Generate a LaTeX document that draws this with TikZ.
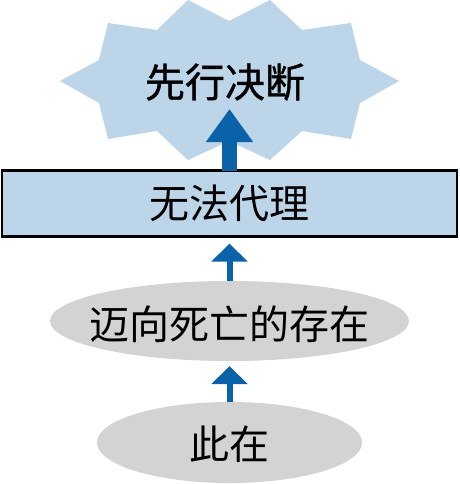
\documentclass[tikz,border=0pt]{standalone}
\usepackage{fontspec}
\newfontfamily\cjk{Noto Sans CJK SC}
\newfontfamily\cjkbold[FakeBold=1]{Noto Sans CJK SC}
\usetikzlibrary{arrows.meta,shapes.geometric}
\definecolor{paleblue}{HTML}{BDD5E8}
\definecolor{arrowblue}{HTML}{0A62A8}
\definecolor{palegray}{HTML}{D3D3D3}
\tikzset{
  txt/.style={font=\fontsize{40}{40}\selectfont\cjk, inner sep=0pt, outer sep=0pt},
  bluebox/.style={txt, draw=black, line width=2.5pt, fill=paleblue, minimum width=455pt, minimum height=66pt},
  grayoval/.style={ellipse, fill=palegray, inner sep=0pt, outer sep=0pt},
  fatarrow/.style={arrowblue, line width=15pt, -{Triangle[width=45pt,length=33pt]}},
  thinarrow/.style={arrowblue, line width=6pt, -{Triangle[width=35pt,length=18pt]}},
}
\begin{document}
\begin{tikzpicture}[x=1pt,y=-1pt]
		\useasboundingbox (0,0) rectangle (459,484);
		% starburst
		\fill[paleblue] (188,0) -- (229,21) -- (270,0) -- (302,30) -- (351,23) -- (360,60)
		  -- (399,81) -- (360,103) -- (351,139) -- (302,131) -- (270,160) -- (229,141)
		  -- (188,160) -- (157,131) -- (108,139) -- (99,103) -- (60,81) -- (99,60)
		  -- (108,23) -- (157,30) -- cycle;
		\node[txt, font=\fontsize{40}{40}\selectfont\cjkbold] (X) at (225,82) {先行决断};
		\coordinate (Tip) at (229.5,109);
		
		\node[bluebox] (D) at (229.5,203.5) {无法代理};
		\node[grayoval, minimum width=359pt, minimum height=80pt,
		  label={[txt, yshift=-3pt]center:迈向死亡的存在}] (S) at (229.5,321) {};
		\node[grayoval, minimum width=265pt, minimum height=81pt,
		  label={[txt, yshift=-2pt]center:此在}] (C) at (229.5,442.5) {};
		
		\path [fatarrow] (D.north) edge (Tip);
		\path [thinarrow] (S.north) edge[shorten >=7pt] (D.south);
		\path [thinarrow] (C.north) edge[shorten >=5pt] (S.south);
		\end{tikzpicture}
\end{document}
